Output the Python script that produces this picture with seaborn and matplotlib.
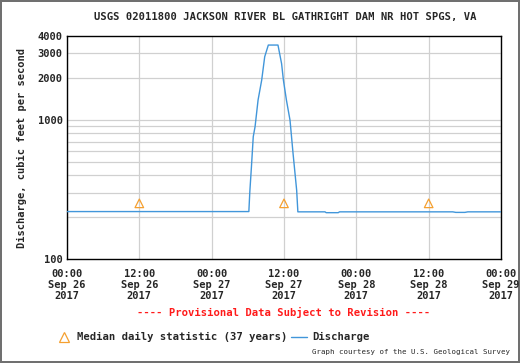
import matplotlib
matplotlib.use("Agg")
import matplotlib.pyplot as plt
import seaborn as sns
import pandas as pd
from matplotlib.lines import Line2D

# hours since Sep 26 2017 00:00, discharge in cfs
HOURS = [0, 30.17, 30.33, 30.6, 30.9, 31.2, 31.7, 32.3, 32.8, 33.4, 35.0,
         35.6, 35.9, 36.4, 37.0, 37.5, 38.1, 38.3, 42.8, 43.0, 45.0, 45.2,
         55.0, 64.0, 64.5, 66.0, 66.5, 72.0]
FLOW = [220, 220, 305, 462, 758, 894, 1390, 1932, 2840, 3445, 3445,
        2535, 1932, 1390, 994, 576, 313, 219, 219, 216, 216, 219,
        219, 219, 217, 217, 219, 219]

MED_HOURS = [12, 36, 60]
MED_FLOW = [252, 252, 252]

XTICKS = [0, 12, 24, 36, 48, 60, 72]
XLABELS = ["00:00\nSep 26\n2017", "12:00\nSep 26\n2017", "00:00\nSep 27\n2017",
           "12:00\nSep 27\n2017", "00:00\nSep 28\n2017", "12:00\nSep 28\n2017",
           "00:00\nSep 29\n2017"]
YTICKS = [100, 1000, 2000, 3000, 4000]
YMINOR = [200, 300, 400, 500, 600, 700, 800, 900]

BLUE = "#4196da"; ORANGE = "#f5a030"; GRID = "#d0d0d0"
MONO = "DejaVu Sans Mono"

sns.set_style("white")
plt.rcParams["font.family"] = [MONO]

df = pd.DataFrame({"hours": HOURS, "flow": FLOW})
med = pd.DataFrame({"hours": MED_HOURS, "flow": MED_FLOW})

fig = plt.figure(figsize=(5.2, 3.63), dpi=100, facecolor="white",
                 edgecolor="#707070", linewidth=1.5)
ax = fig.add_axes([0.1288, 0.2857, 0.8347, 0.6151])

ax.set_yscale("log")
ax.set_ylim(100, 4000)
ax.set_xlim(0, 72)

for h in XTICKS:
    ax.axvline(h, color=GRID, lw=0.9, zorder=0)
for v in YTICKS[1:-1] + YMINOR:
    ax.axhline(v, color=GRID, lw=0.9, zorder=0)

sns.lineplot(data=df, x="hours", y="flow", ax=ax, color=BLUE, lw=1.0,
             zorder=3, legend=False)
sns.scatterplot(data=med, x="hours", y="flow", ax=ax, marker="^", s=38,
                facecolor="none", edgecolor=ORANGE, linewidth=0.9, zorder=4,
                legend=False)

ax.set_xticks(XTICKS)
ax.set_xticklabels(XLABELS, fontsize=7.5, fontweight="bold", linespacing=1.15)
ax.set_yticks(YTICKS)
ax.set_yticklabels([str(v) for v in YTICKS], fontsize=7.5, fontweight="bold")
ax.yaxis.set_minor_locator(matplotlib.ticker.NullLocator())
ax.tick_params(axis="y", length=0, pad=3)
ax.tick_params(axis="x", length=0, pad=7)
ax.set_xlabel("")
ax.set_ylabel("Discharge, cubic feet per second", fontsize=7.5,
              fontweight="bold", labelpad=8)
for sp in ax.spines.values():
    sp.set_edgecolor("black"); sp.set_linewidth(1.0)

fig.text(0.548, 0.953, "USGS 02011800 JACKSON RIVER BL GATHRIGHT DAM NR HOT SPGS, VA",
         ha="center", va="center", fontsize=7.6, fontweight="bold")
fig.text(0.546, 0.139, "---- Provisional Data Subject to Revision ----",
         ha="center", va="center", fontsize=7.6, fontweight="bold", color="#ff1a1a")

fig.lines.append(Line2D([0.123], [0.073], transform=fig.transFigure, marker="^",
                        markersize=6.5, markerfacecolor="none",
                        markeredgecolor=ORANGE, markeredgewidth=0.9, ls="none"))
fig.text(0.148, 0.073, "Median daily statistic (37 years)", ha="left", va="center",
         fontsize=7.6, fontweight="bold")
fig.lines.append(Line2D([0.560, 0.590], [0.073, 0.073], transform=fig.transFigure,
                        color=BLUE, lw=1.0))
fig.text(0.600, 0.073, "Discharge", ha="left", va="center",
         fontsize=7.6, fontweight="bold")
fig.text(0.981, 0.030, "Graph courtesy of the U.S. Geological Survey",
         ha="right", va="center", fontsize=5.3)

fig.savefig("out.png", dpi=100)
